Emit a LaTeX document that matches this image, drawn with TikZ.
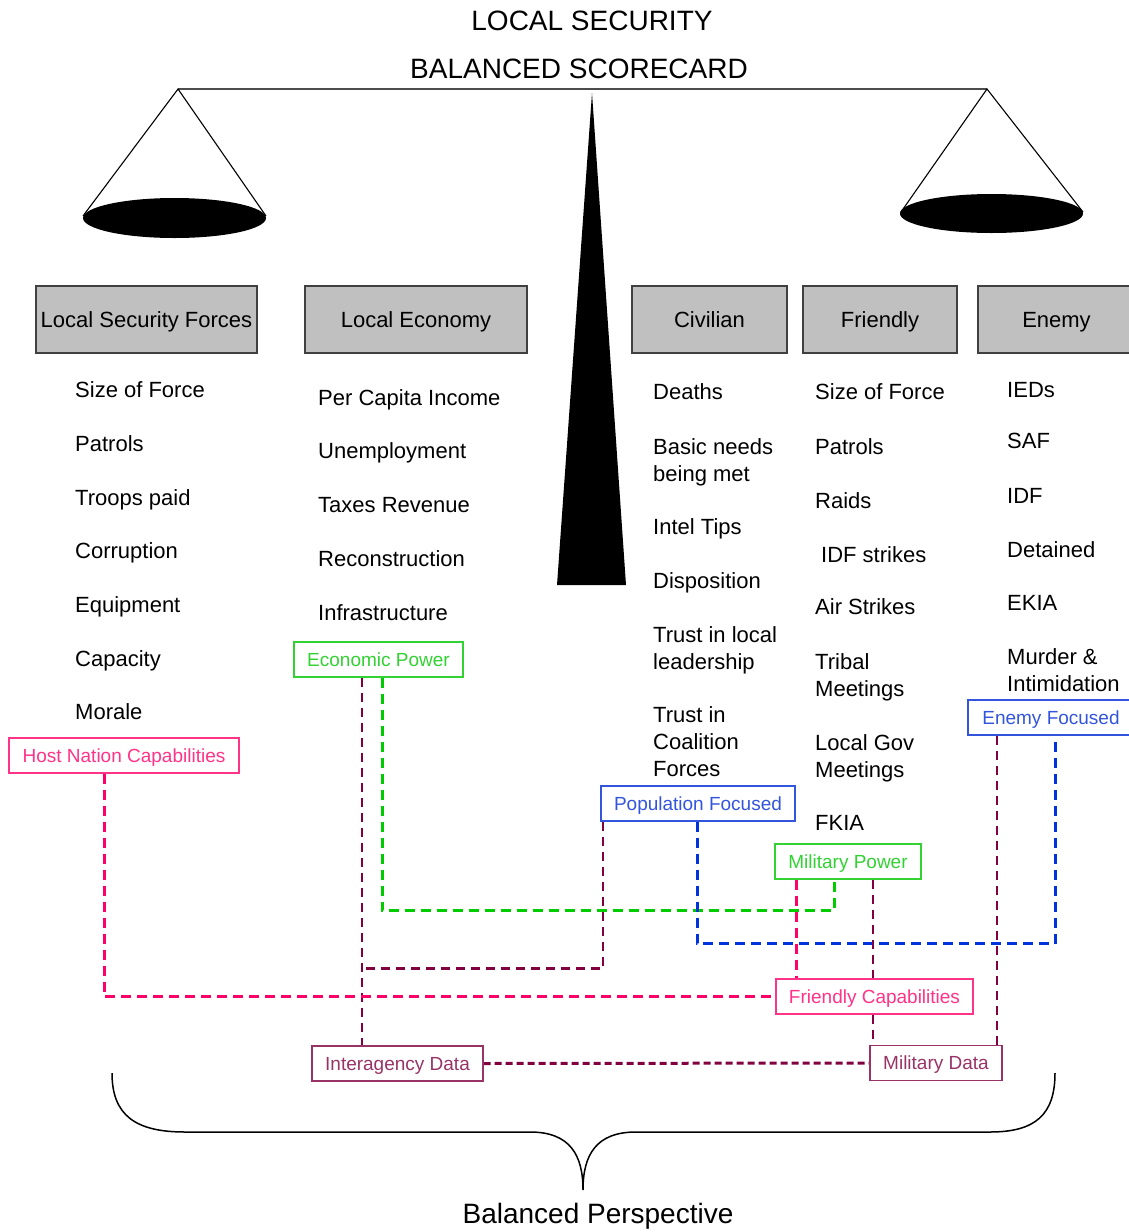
\documentclass[tikz,border=0pt]{standalone}
\usepackage{fontspec}
\setmainfont{Liberation Sans}
\usetikzlibrary{backgrounds}
\definecolor{cgreen}{RGB}{51,210,51}
\definecolor{clgreen}{RGB}{0,204,0}
\definecolor{cpink}{RGB}{255,51,136}
\definecolor{clpink}{RGB}{255,0,102}
\definecolor{cblue}{RGB}{51,85,221}
\definecolor{clblue}{RGB}{0,51,221}
\definecolor{cmaroon}{RGB}{153,51,102}
\definecolor{clmaroon}{RGB}{128,0,64}
\definecolor{hdrgray}{RGB}{192,192,192}
\newcommand{\mlines}[1]{\begin{tabular}[t]{@{}l@{}}#1\end{tabular}}
\begin{document}
\begin{tikzpicture}[x=1pt,y=-1pt,
 hdrbox/.style={draw=black!75, line width=1.5pt, fill=hdrgray, minimum height=67pt, inner sep=0pt, font=\fontsize{22}{27}\selectfont, text height=16pt, text depth=0pt},
 itm/.style={anchor=base west, inner sep=0pt, font=\fontsize{22}{27}\selectfont},
 tagbox/.style={draw=#1, text=#1, line width=1.3pt, fill=white, minimum height=35pt, inner sep=0pt, font=\fontsize{19}{22}\selectfont, text height=13.6pt, text depth=0pt},
 ttl/.style={anchor=base, inner sep=0pt, font=\fontsize{28}{32}\selectfont},
 dlink/.style={line width=3pt, dash pattern=on 10pt off 6pt, color=#1},
 thinlink/.style={line width=2.5pt, dash pattern=on 9pt off 6pt, color=#1},
]
\useasboundingbox (0,0) rectangle (1129,1232);

% titles
\node[ttl] (t1) at (592,30) {LOCAL SECURITY};
\node[ttl] (t2) at (579,78) {BALANCED SCORECARD};

% scale
\coordinate (bl) at (178,89);
\coordinate (br) at (987,89);
\draw[line width=2pt, black!70] (bl) -- (br);
\draw[line width=1.1pt] (83,216) -- (bl) -- (266,216);
\draw[line width=1.1pt] (901,212) -- (br) -- (1083,212);
\fill (174.5,218) ellipse [x radius=91.5pt, y radius=20pt];
\fill (991.5,213.5) ellipse [x radius=91.5pt, y radius=19.5pt];
\fill (592,93) -- (626,585) -- (557,585) -- cycle;

% headers
\node[hdrbox, minimum width=221pt] (h1) at (146.5,319.5) {Local Security Forces};
\node[hdrbox, minimum width=222pt] (h2) at (416,319.5) {Local Economy};
\node[hdrbox, minimum width=155pt] (h3) at (709.5,319.5) {Civilian};
\node[hdrbox, minimum width=154pt] (h4) at (880,319.5) {Friendly};
\node[hdrbox, minimum width=157pt] (h5) at (1056.5,319.5) {Enemy};

% Local Security Forces items
\node[itm] (a1) at (75,397) {Size of Force};
\node[itm] (a2) at (75,451) {Patrols};
\node[itm] (a3) at (75,505) {Troops paid};
\node[itm] (a4) at (75,558) {Corruption};
\node[itm] (a5) at (75,612) {Equipment};
\node[itm] (a6) at (75,666) {Capacity};
\node[itm] (a7) at (75,719) {Morale};

% Local Economy items
\node[itm] (b1) at (318,405) {Per Capita Income};
\node[itm] (b2) at (318,458) {Unemployment};
\node[itm] (b3) at (318,512) {Taxes Revenue};
\node[itm] (b4) at (318,566) {Reconstruction};
\node[itm] (b5) at (318,620) {Infrastructure};

% Civilian items
\node[itm] (c1) at (653,399) {Deaths};
\node[itm] (c2) at (653,454) {\mlines{Basic needs\\being met}};
\node[itm] (c3) at (653,534) {Intel Tips};
\node[itm] (c4) at (653,588) {Disposition};
\node[itm] (c5) at (653,642) {\mlines{Trust in local\\leadership}};
\node[itm] (c6) at (653,722) {\mlines{Trust in\\Coalition\\Forces}};

% Friendly items
\node[itm] (d1) at (815,399) {Size of Force};
\node[itm] (d2) at (815,454) {Patrols};
\node[itm] (d3) at (815,508) {Raids};
\node[itm] (d4) at (821,562) {IDF strikes};
\node[itm] (d5) at (815,614) {Air Strikes};
\node[itm] (d6) at (815,669) {\mlines{Tribal\\Meetings}};
\node[itm] (d7) at (815,750) {\mlines{Local Gov\\Meetings}};
\node[itm] (d8) at (815,830) {FKIA};

% Enemy items
\node[itm] (e1) at (1007,397) {IEDs};
\node[itm] (e2) at (1007,448) {SAF};
\node[itm] (e3) at (1007,503) {IDF};
\node[itm] (e4) at (1007,557) {Detained};
\node[itm] (e5) at (1007,610) {EKIA};
\node[itm] (e6) at (1007,664) {\mlines{Murder \&\\Intimidation}};

% tag boxes
\node[tagbox=cgreen, minimum width=169pt] (econ) at (378.5,659.5) {Economic Power};
\node[tagbox=cpink, minimum width=230pt] (hnc) at (124,755.5) {Host Nation Capabilities};
\node[tagbox=cmaroon, minimum width=171pt] (inter) at (397.5,1063.5) {Interagency Data};
\node[tagbox=cblue, minimum width=194pt] (popfoc) at (698,803.5) {Population Focused};
\node[tagbox=cgreen, minimum width=146pt] (milpow) at (848,861.5) {Military Power};
\node[tagbox=cblue, minimum width=166pt] (enfoc) at (1051,717.5) {Enemy Focused};
\node[tagbox=cpink, minimum width=197pt] (friendcap) at (874.5,996.5) {Friendly Capabilities};
\node[tagbox=cmaroon, minimum width=132pt] (mildata) at (936,1063) {Military Data};

% connectors
\begin{pgfonlayer}{background}
\draw[dlink=clgreen] ([xshift=3.5pt]econ.south) -- ++(0,233) -| ([xshift=-14pt]milpow.south);
\draw[thinlink=clmaroon] ([xshift=-16.5pt]econ.south) -- ([xshift=-35.5pt]inter.north);
\draw[thinlink=clmaroon] ([xshift=-95pt]popfoc.south) -- ++(0,147) -- ++(-241,0);
\draw[dlink=clblue] ([xshift=-1pt]popfoc.south) -- ++(0,122) -| ([xshift=4pt]enfoc.south);
\draw[dlink=clpink] ([xshift=-20pt]hnc.south) |- (friendcap.west);
\draw[dlink=clpink] ([xshift=-52pt]milpow.south) -- ([xshift=-78.5pt]friendcap.north);
\draw[thinlink=clmaroon] ([xshift=25pt]milpow.south) -- ([xshift=-63pt]mildata.north);
\draw[thinlink=clmaroon] ([xshift=-54pt]enfoc.south) -- ([xshift=61pt]mildata.north);
\draw[clmaroon, line width=3pt, dash pattern=on 7pt off 4pt] (inter.east) -- (mildata.west);
\end{pgfonlayer}

% brace
\draw[line width=1.5pt] (112,1073) .. controls (112,1115) and (135,1132) .. (185,1132) -- (530,1132) .. controls (570,1132) and (583,1155) .. (583,1190) .. controls (583,1155) and (596,1132) .. (636,1132) -- (990,1132) .. controls (1035,1132) and (1055,1115) .. (1055,1073);
\node[ttl] (bp) at (598,1223) {Balanced Perspective};
\end{tikzpicture}
\end{document}
